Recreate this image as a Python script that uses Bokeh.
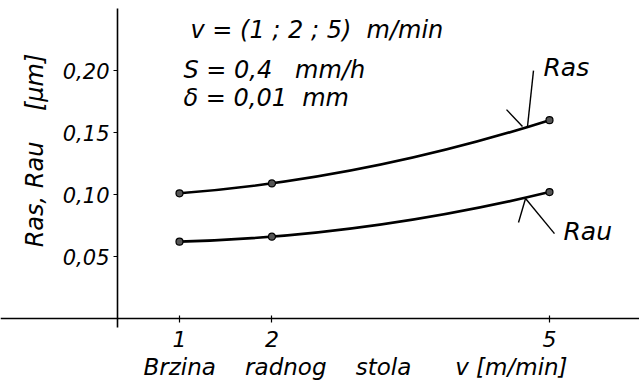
import numpy as np
from bokeh.plotting import figure
from bokeh.models import LinearAxis, FixedTicker, ColumnDataSource
from bokeh.core.properties import value
from bokeh.embed import file_html
from bokeh.resources import INLINE

# ---- data ----
speed = [1, 2, 5]                    # v [m/min]
ras = [0.101, 0.109, 0.160]          # Ras [um]
rau = [0.062, 0.066, 0.102]          # Rau [um]
y_ticks = [0.05, 0.10, 0.15, 0.20]
y_tick_labels = ["0,05", "0,10", "0,15", "0,20"]
x_ticks = [1, 2, 5]
x_tick_labels = ["1", "2", "5"]

FONT_NAME = "DejaVu Sans"
FONT = value(FONT_NAME)
NB = "\u00a0"

p = figure(width=639, height=384, output_backend="svg", toolbar_location=None,
           x_range=(-0.935, 5.973), y_range=(-0.0532, 0.2565),
           x_axis_type=None, y_axis_type=None,
           min_border=0, min_border_left=0, min_border_right=0,
           min_border_top=0, min_border_bottom=0)
p.outline_line_color = None
p.grid.visible = False
p.background_fill_color = "white"
p.border_fill_color = "white"

# ---- axes at fixed locations (crossing like the drawing) ----
xaxis = LinearAxis(fixed_location=0.0,
                   ticker=FixedTicker(ticks=x_ticks),
                   major_label_overrides={t: l for t, l in zip(x_ticks, x_tick_labels)},
                   axis_line_width=1.6, axis_line_color="black",
                   major_tick_in=3, major_tick_out=4, minor_tick_line_color=None,
                   major_tick_line_width=1.2,
                   major_label_standoff=8,
                   major_label_text_font=FONT_NAME, major_label_text_font_style="italic",
                   major_label_text_font_size="22px", major_label_text_color="black")
p.add_layout(xaxis, "below")

yaxis = LinearAxis(fixed_location=0.330, bounds=(-0.0073, 0.25),
                   ticker=FixedTicker(ticks=y_ticks),
                   major_label_overrides={t: l for t, l in zip(y_ticks, y_tick_labels)},
                   axis_line_width=1.6, axis_line_color="black",
                   major_tick_in=0, major_tick_out=4, minor_tick_line_color=None,
                   major_tick_line_width=1.2,
                   major_label_standoff=4,
                   major_label_text_font=FONT_NAME, major_label_text_font_style="italic",
                   major_label_text_font_size="21px", major_label_text_color="black")
p.add_layout(yaxis, "left")

# ---- smooth curves through the measured points ----
def curve(ys):
    coeffs = np.polyfit(speed, ys, 2)
    slope0 = np.polyval(np.polyder(coeffs), speed[0])
    cx = (speed[0] + speed[-1]) / 2
    cy = ys[0] + slope0 * (cx - speed[0])
    return dict(x0=[speed[0]], y0=[ys[0]], x1=[speed[-1]], y1=[ys[-1]], cx=[cx], cy=[cy])

for ys in (ras, rau):
    p.quadratic(source=ColumnDataSource(curve(ys)), x0="x0", y0="y0", x1="x1", y1="y1",
                cx="cx", cy="cy", line_color="black", line_width=2.6)
    p.scatter(speed, ys, size=7, fill_color="#555555", line_color="black", line_width=1.2)

# ---- leader lines for curve labels ----
p.segment(x0=[4.827, 4.535, 4.741, 4.741], y0=[0.2000, 0.1685, 0.0968, 0.0968],
          x1=[4.762, 4.708, 5.054, 4.665], y1=[0.1548, 0.1548, 0.0685, 0.0774],
          line_color="black", line_width=1.4)

p.text(x=[4.935, 5.151], y=[0.2024, 0.0702], text=["Ras", "Rau"],
       text_font=FONT, text_font_style="italic", text_font_size="25px",
       text_align="left", text_baseline="middle", text_color="black")

# ---- parameter block ----
p.text(x=[1.119, 1.043, 1.043], y=[0.2331, 0.2008, 0.1782],
       text=[f"v = (1 ; 2 ; 5){NB}{NB}m/min", f"S = 0,4{NB}{NB}{NB}mm/h", f"δ = 0,01{NB}{NB}mm"],
       text_font=FONT, text_font_style="italic", text_font_size="24px",
       text_align="left", text_baseline="middle", text_color="black")

# ---- axis titles ----
p.text(x=[0.611], y=[-0.0387],
       text=[f"Brzina{NB * 4}radnog{NB * 4}stola{NB * 6}v [m/min]"],
       text_font=FONT, text_font_style="italic", text_font_size="23px",
       text_align="left", text_baseline="middle", text_color="black")
p.text(x=[-0.557], y=[0.1355], text=[f"Ras,{NB}Rau{NB * 4}[μm]"], angle=np.pi / 2,
       text_font=FONT, text_font_style="italic", text_font_size="24px",
       text_align="center", text_baseline="middle", text_color="black")

open("out.html", "w").write(file_html(p, INLINE))
